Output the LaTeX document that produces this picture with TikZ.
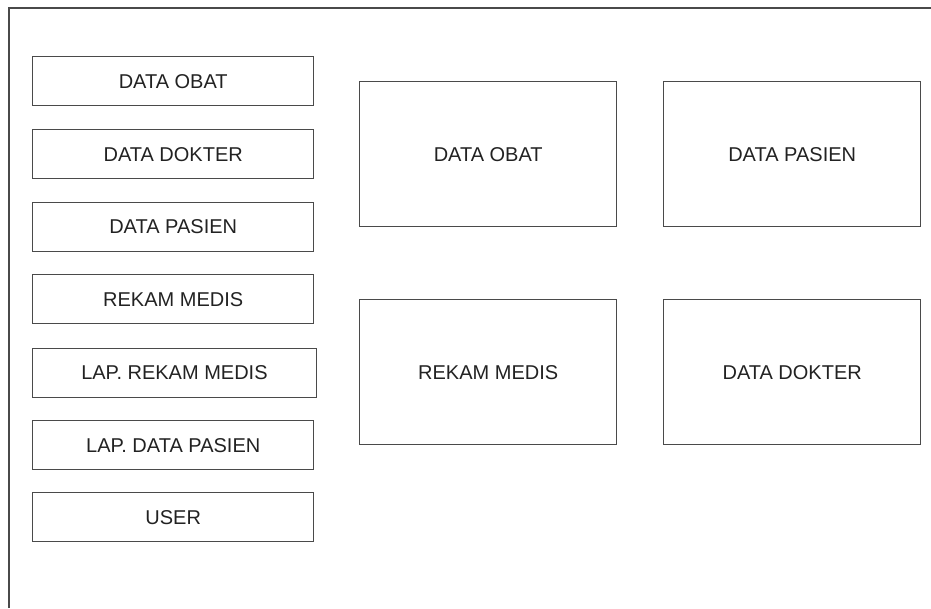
\documentclass[tikz,border=0pt]{standalone}
\usepackage{fontspec}
\setmainfont{Liberation Sans}
\definecolor{linegray}{HTML}{4A4A4A}
\definecolor{textgray}{HTML}{222222}
\begin{document}
\begin{tikzpicture}[x=1pt,y=-1pt,
  menubox/.style={draw=linegray, line width=1.4pt, text=textgray, font=\fontsize{20}{22}\selectfont, anchor=north west, inner sep=0pt, minimum height=49pt, minimum width=281pt},
  bigbox/.style={draw=linegray, line width=1.4pt, text=textgray, font=\fontsize{20}{22}\selectfont, anchor=north west, inner sep=0pt, minimum height=145pt, minimum width=257pt}]
\useasboundingbox (0,0) rectangle (931,608);
\coordinate (fbl) at (9,608);
\coordinate (ftl) at (9,8);
\coordinate (ftr) at (931,8);
\draw[linegray, line width=1.5pt] (fbl) -- (ftl) -- (ftr);
% left menu
\node[menubox] (m1) at (32,56) {DATA OBAT};
\node[menubox] (m2) at (32,129) {DATA DOKTER};
\node[menubox] (m3) at (32,201.5) {DATA PASIEN};
\node[menubox] (m4) at (32,274) {REKAM MEDIS};
\node[menubox, minimum width=283.5pt] (m5) at (32,347.5) {LAP. REKAM MEDIS};
\node[menubox] (m6) at (32,420) {LAP. DATA PASIEN};
\node[menubox] (m7) at (32,492) {USER};
% big boxes
\node[bigbox] (b1) at (359,81) {DATA OBAT};
\node[bigbox] (b2) at (663,81) {DATA PASIEN};
\node[bigbox] (b3) at (359,299) {REKAM MEDIS};
\node[bigbox] (b4) at (663,299) {DATA DOKTER};
\end{tikzpicture}
\end{document}
